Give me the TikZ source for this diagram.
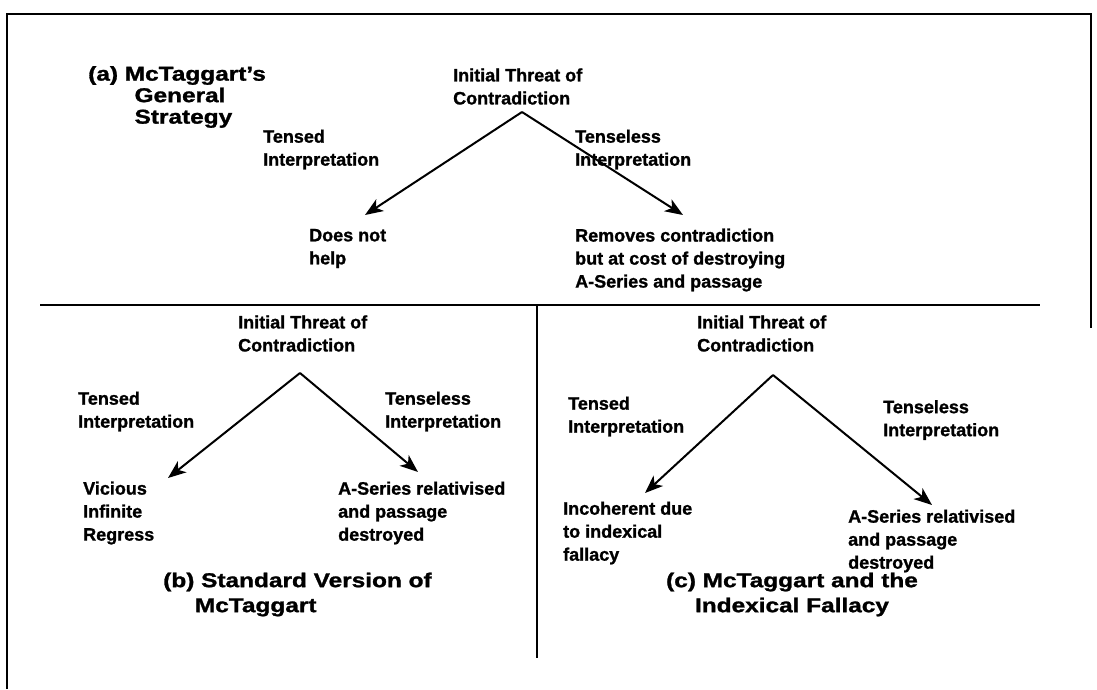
\documentclass[tikz,border=0pt]{standalone}
\usepackage{fontspec}
\setmainfont{Liberation Sans}[BoldFeatures={FakeBold=1.2}]
\usetikzlibrary{arrows.meta}
\begin{document}
\begin{tikzpicture}[x=1pt,y=-1pt,
  lbl/.style={font=\fontsize{18}{23}\selectfont\bfseries, align=left, inner sep=0pt, anchor=west},
  ttl/.style={font=\fontsize{20}{25}\selectfont\bfseries, align=left, inner sep=0pt, anchor=west, xscale=1.22},
  arr/.style={line width=2pt, -{Stealth[length=18pt,width=14pt,inset=5pt]}},
  frameline/.style={line width=2.8pt},
  divider/.style={line width=1.4pt}]
\useasboundingbox (0,0) rectangle (1097,689);
% frame
\draw[frameline] (7,689) -- (7,14) -- (1091,14) -- (1091,328);
% dividers
\draw[divider] (40,305) -- (1040,305);
\draw[divider] (537,305) -- (537,658);

% (a)
\node[ttl, font=\fontsize{20}{21.5}\selectfont\bfseries] (titleA) at (88,97) {(a) McTaggart's\\\hspace*{38pt}General\\\hspace*{38pt}Strategy};
\node[lbl] (threatA) at (453,86.5) {Initial Threat of\\Contradiction};
\node[lbl] (tensedA) at (263,149.5) {Tensed\\Interpretation};
\node[lbl] (tenselessA) at (575,149.5) {Tenseless\\Interpretation};
\node[lbl] (resA1) at (309,248.5) {Does not\\help};
\node[lbl] (resA2) at (575,260) {Removes contradiction\\but at cost of destroying\\A-Series and passage};
\coordinate (apexA) at (522,112);
\coordinate (tipA1) at (365,215);
\coordinate (tipA2) at (683,215);
\draw[arr] (apexA) -- (tipA1);
\draw[arr] (apexA) -- (tipA2);

% (b)
\node[lbl] (threatB) at (238,333.5) {Initial Threat of\\Contradiction};
\node[lbl] (tensedB) at (78,411.5) {Tensed\\Interpretation};
\node[lbl] (tenselessB) at (385,411.5) {Tenseless\\Interpretation};
\node[lbl] (resB1) at (83,513) {Vicious\\Infinite\\Regress};
\node[lbl] (resB2) at (338,513) {A-Series relativised\\and passage\\destroyed};
\node[ttl] (titleB) at (163,594.5) {(b) Standard Version of\\\hspace*{26pt}McTaggart};
\coordinate (apexB) at (300,373);
\coordinate (tipB1) at (168,478);
\coordinate (tipB2) at (418,472);
\draw[arr] (apexB) -- (tipB1);
\draw[arr] (apexB) -- (tipB2);

% (c)
\node[lbl] (threatC) at (697,333.5) {Initial Threat of\\Contradiction};
\node[lbl] (tensedC) at (568,416.5) {Tensed\\Interpretation};
\node[lbl] (tenselessC) at (883,420) {Tenseless\\Interpretation};
\node[lbl] (resC1) at (563,533) {Incoherent due\\to indexical\\fallacy};
\node[lbl] (resC2) at (848,541) {A-Series relativised\\and passage\\destroyed};
\node[ttl, align=center, anchor=center] (titleC) at (792,594.5) {(c) McTaggart and the\\Indexical Fallacy};
\coordinate (apexC) at (773,375);
\coordinate (tipC1) at (645,493);
\coordinate (tipC2) at (932,505);
\draw[arr] (apexC) -- (tipC1);
\draw[arr] (apexC) -- (tipC2);
\end{tikzpicture}
\end{document}
